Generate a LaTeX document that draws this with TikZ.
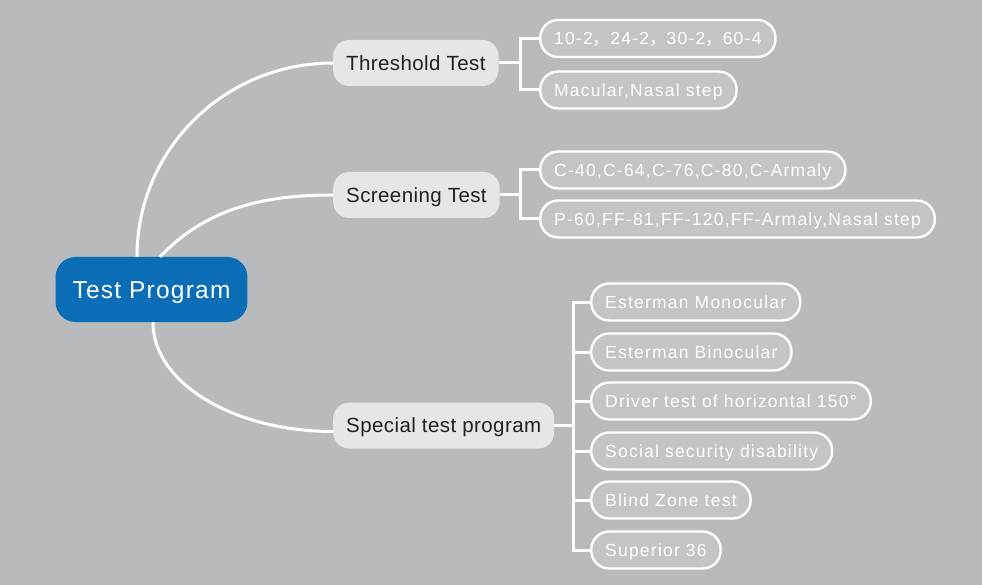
\documentclass[tikz,border=0pt]{standalone}
\usepackage{fontspec}
\setmainfont{Liberation Sans}
\newfontfamily\rootfont[LetterSpace=5]{Liberation Sans}
\newfontfamily\leaffont[LetterSpace=7]{Liberation Sans}
\newfontfamily\branchfont[LetterSpace=2]{Liberation Sans}
\newfontfamily\cjk{Noto Sans CJK SC}
\usetikzlibrary{positioning}

\definecolor{bggray}{HTML}{B9BABE}
\definecolor{leafgray}{HTML}{C3C4C8}
\definecolor{branchgray}{HTML}{E5E6E9}
\definecolor{rootblue}{HTML}{0B6DB6}
\definecolor{textdark}{HTML}{202020}

\tikzset{
  root/.style={fill=rootblue, text=white, rounded corners=20pt, minimum height=65pt,
    inner xsep=17pt, font=\rootfont\fontsize{24.5}{28}\selectfont, text height=17.5pt, text depth=0pt},
  branch/.style={fill=branchgray, text=textdark, rounded corners=16pt, minimum height=46pt,
    inner xsep=13pt, font=\branchfont\fontsize{20.5}{24}\selectfont, text height=14.7pt,
    text depth=0pt, anchor=west},
  leaf/.style={draw=white, line width=2.4pt, fill=leafgray, text=white, rounded corners=18pt,
    minimum height=37pt, inner xsep=14pt, font=\leaffont\fontsize{17.5}{20}\selectfont,
    text height=12.5pt, text depth=0pt, anchor=west},
  link/.style={draw=white, line width=3pt}
}

\begin{document}
\begin{tikzpicture}[x=1pt, y=-1pt]

  \fill[bggray] (0,0) rectangle (982,585);

  \node (tp) [root] at (151.5,289.5) {Test Program};
  \node (thr) [branch] at (333,63) {Threshold Test};
  \node (scr) [branch] at (333,195) {Screening Test};
  \node (spc) [branch] at (333,425.5) {Special test program};

  \node (thr1) [leaf] at (539,38.5) {10-2{\cjk ，}24-2{\cjk ，}30-2{\cjk ，}60-4};
  \node (thr2) [leaf] at (539,90) {Macular,Nasal step};
  \node (scr1) [leaf] at (539,170) {C-40,C-64,C-76,C-80,C-Armaly};
  \node (scr2) [leaf] at (539,219) {P-60,FF-81,FF-120,FF-Armaly,Nasal step};

  \node (spc1) [leaf] at (590,302) {Esterman Monocular};
  \node (spc2) [leaf] at (590,352) {Esterman Binocular};
  \node (spc3) [leaf] at (590,401) {Driver test of horizontal 150°};
  \node (spc4) [leaf] at (590,451) {Social security disability};
  \node (spc5) [leaf] at (590,500) {Blind Zone test};
  \node (spc6) [leaf] at (590,550) {Superior 36};

  \coordinate (thrfork) at (520,63);
  \coordinate (scrfork) at (520,195);
  \coordinate (spcfork) at (573,425.5);

  % curves from the root
  \draw[link] ([xshift=-14.5pt]tp.north) .. controls +(0,-108) and +(-108,0) .. (thr.west);
  \draw[link] ([xshift=8.5pt]tp.north) .. controls +(45,-47) and +(-73,0) .. (scr.west);
  \draw[link] ([xshift=1.5pt]tp.south) .. controls +(0,61) and +(-99,0) .. ([yshift=-6pt]spc.west);

  \draw[link] (thr.east) -- (thrfork);
  \draw[link] (thrfork) |- (thr1.west);
  \draw[link] (thrfork) |- (thr2.west);

  \draw[link] (scr.east) -- (scrfork);
  \draw[link] (scrfork) |- (scr1.west);
  \draw[link] (scrfork) |- (scr2.west);

  \draw[link] (spc.east) -- (spcfork);
  \draw[link] (spcfork) |- (spc1.west);
  \draw[link] (spcfork) |- (spc2.west);
  \draw[link] (spcfork) |- (spc3.west);
  \draw[link] (spcfork) |- (spc4.west);
  \draw[link] (spcfork) |- (spc5.west);
  \draw[link] (spcfork) |- (spc6.west);
\end{tikzpicture}
\end{document}
